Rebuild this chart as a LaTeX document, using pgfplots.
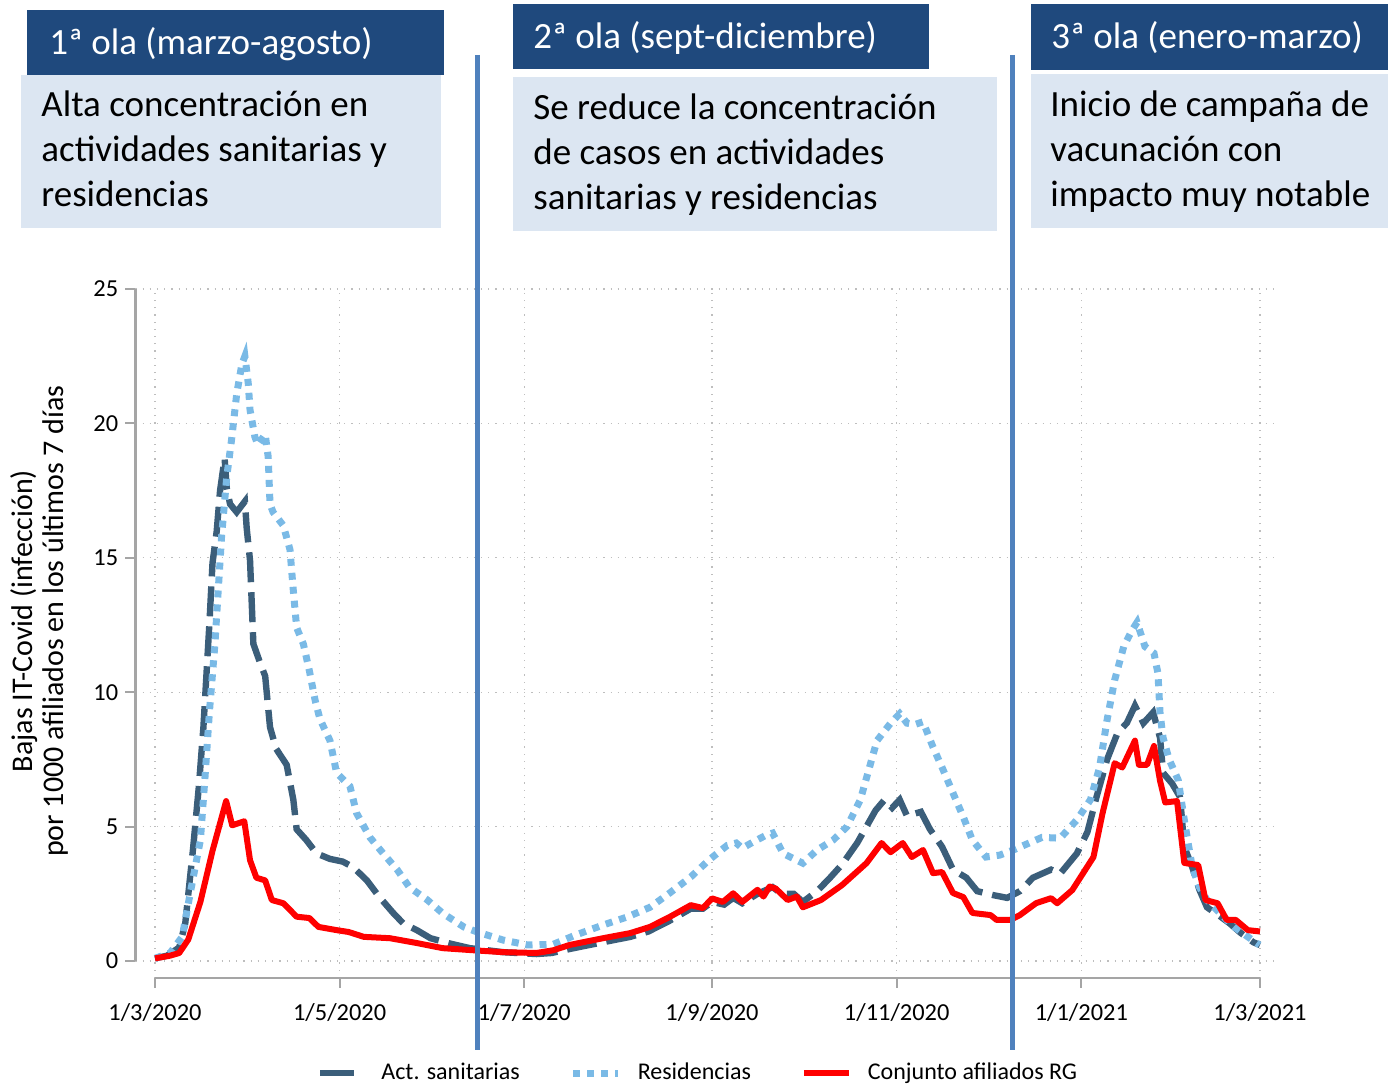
\documentclass[border=0pt]{standalone}
\usepackage{pgfplots}
\pgfplotsset{compat=1.18}
\usepackage{fontspec}
\setmainfont{Carlito}
\definecolor{actc}{RGB}{59,94,122}
\definecolor{resc}{RGB}{122,186,230}
\definecolor{hdr}{RGB}{31,73,125}
\definecolor{bodyc}{RGB}{220,230,242}
\definecolor{vline}{RGB}{79,129,189}
\definecolor{gridc}{RGB}{190,190,190}
\definecolor{axc}{RGB}{165,165,165}
\pgfplotstableread{
d v
0 0.1
4 0.2
8 0.5
10 1.4
12.6 4.2
14.5 6.5
16 8.7
18 12.6
19 14.8
20.4 16.0
21.5 17.5
23 18.7
23.7 17.6
24.8 17.0
27 16.7
29.7 17.1
30.3 16.1
31.4 14.9
32.5 11.8
34.7 11.1
36.4 10.6
38 8.7
40 7.9
43.5 7.3
45.7 6.0
46.8 4.9
50 4.5
53.4 4.0
57.8 3.8
62 3.7
65.4 3.5
70 3.0
74 2.4
78.6 1.8
82 1.4
86.5 1.15
91 0.85
97.5 0.65
104 0.48
115 0.33
126 0.26
131 0.3
137 0.45
148 0.7
157 0.9
163 1.1
170 1.5
177 1.95
181 1.95
184 2.2
188 2.1
191 2.35
194 2.15
199 2.5
204 2.75
207 2.5
211 2.5
214 2.2
218.7 2.6
223 3.1
227 3.6
232 4.4
235 5.0
238 5.6
241 6.0
243.5 5.7
246 6.0
248.4 5.4
253 5.55
256 4.9
260 4.25
263.6 3.4
268 3.1
271.6 2.6
277 2.45
281.5 2.35
285.7 2.6
290 3.1
296 3.4
299 3.25
304.5 4.0
308 4.8
311 6.1
314.5 7.5
318 8.5
321 8.85
323.7 9.5
326.5 8.85
329.7 9.25
332 8.3
333 7.0
336 6.6
338.6 6.1
340 4.25
342.6 3.5
345 2.65
347.5 2.0
352 1.65
355 1.4
358.6 1.05
362.8 0.7
365 0.6
}\acttab
\pgfplotstableread{
d v
0 0.1
5 0.3
9 0.9
11.6 2.5
15 4.5
16.5 6.8
18 9.3
19.8 11.8
20.9 13.8
22 15.8
23.7 18.0
25.3 19.4
27 21.1
28.7 22.2
29.7 22.5
30.8 21.5
31.4 20.5
33 19.5
34 19.2
36.4 19.6
37.4 18.75
38 17.0
39 16.7
42.4 16.2
44.6 15.3
45.6 13.9
46.8 12.4
49 11.8
51 10.8
52.9 9.7
54.5 9.0
57.8 8.2
60 7.0
64.4 6.5
66.6 5.5
71 4.6
75.4 4.0
80 3.4
84 2.75
90 2.27
95 1.78
102 1.27
106 1.1
115 0.78
123 0.6
131.5 0.62
139 0.97
148 1.34
156 1.64
163.5 2.0
170 2.53
177 3.13
183 3.76
189 4.3
192 4.39
194 4.2
197.6 4.43
202 4.69
204 4.76
207.5 4.0
214 3.64
218.7 4.13
224 4.5
228.6 5.0
233 6.0
236 7.2
238.5 8.2
243 8.85
246 9.2
248.4 8.85
251 8.8
253.7 8.9
257 7.96
260 7.2
263.6 6.25
267 5.36
270 4.5
274.5 3.87
279 3.94
283.5 4.13
285.7 4.24
293 4.6
299 4.57
304.5 5.25
309 6.0
312 7.2
314.5 8.97
317 10.45
320 11.7
322.7 12.3
324.4 12.6
327 11.7
330 11.45
331.3 10.7
332 9.2
333 8.3
335 7.5
338 6.73
340 5.25
342.6 3.5
345 2.75
347.5 2.27
353 1.64
356.5 1.27
361 0.9
364.8 0.6
}\restab
\pgfplotstableread{
d v
0 0.1
5 0.2
8 0.3
11 0.8
15 2.2
19 4.1
23.5 5.95
25.5 5.05
29.5 5.2
31.4 3.75
33.5 3.1
36.4 3.0
38.6 2.27
42.4 2.15
46.8 1.65
51 1.6
54 1.27
60 1.15
64 1.08
69 0.9
77.6 0.85
86.5 0.67
95 0.48
104 0.41
115 0.33
126 0.3
131.5 0.4
137 0.6
148 0.85
157 1.04
163.5 1.27
170 1.64
177 2.08
181 1.97
184 2.33
187.6 2.2
191 2.52
194 2.2
199 2.65
201 2.4
203 2.77
205 2.7
209 2.27
212 2.4
214 2.0
220 2.27
227 2.83
235 3.64
240 4.39
243 4.05
247 4.39
250 3.87
253.7 4.13
257 3.27
260 3.31
263.6 2.53
267 2.38
270 1.79
276 1.71
278 1.53
282.5 1.53
285.7 1.71
291 2.15
296 2.34
298 2.15
303 2.64
310 3.87
313 5.5
317 7.36
319.5 7.2
323.7 8.2
325 7.3
327.7 7.3
330 8.0
332 6.7
333.7 5.9
337.6 5.95
340 3.65
344.6 3.57
347 2.27
351 2.15
354 1.53
357 1.53
361 1.15
365 1.1
}\redtab
\begin{document}
\begin{tikzpicture}
\path[use as bounding box] (0,0) rectangle (694pt,542.5pt);
\begin{axis}[
  at={(67.65pt,53.5pt)}, anchor=south west,
  scale only axis, width=569.9pt, height=344.5pt,
  xmin=-6.5, xmax=370, ymin=-0.63, ymax=25,
  clip=false,
  axis x line*=bottom, axis y line*=left,
  axis line style={draw=none},
  xtick={0,61,122,184,245,306,365},
  xticklabels={1/3/2020,1/5/2020,1/7/2020,1/9/2020,1/11/2020,1/1/2021,1/3/2021},
  ytick={0,5,10,15,20,25},
  grid=major,
  major grid style={gridc, line width=0.6pt, dash pattern=on 0.6pt off 3pt},
  tick style={axc, line width=1pt},
  major tick length=5pt, tick align=outside,
  ticklabel style={font=\fontsize{12.2}{14}\selectfont},
  xticklabel style={yshift=-4.5pt},
  /pgf/number format/assume math mode=true,
  ylabel={Bajas IT-Covid (infección)\\por 1000 afiliados en los últimos 7 días},
  ylabel style={at={(axis description cs:-0.0845,0.518)}, anchor=center, align=center, font=\fontsize{15}{15.5}\selectfont},
  legend style={at={(0.493,-0.138)}, anchor=center, draw=none, fill=none,
    font=\fontsize{12}{14}\selectfont, legend columns=3,
    nodes={inner sep=0pt},
    /tikz/every odd column/.append style={column sep=8pt},
    /tikz/every even column/.append style={column sep=25pt}},
  legend cell align=left,
  after end axis/.code={
    \draw[axc, line width=1.2pt] (axis cs:-6.5,0) -- (axis cs:-6.5,25);
    \draw[axc, line width=1.2pt] (axis cs:0,-0.63) -- (axis cs:365,-0.63);
  },
]
\addplot[actc, line width=3.2pt, dash pattern=on 15pt off 5pt,
  legend image code/.code={\path[draw=none] (0pt,0pt) -- (22.5pt,0pt); \draw[actc, solid, line width=3.2pt] (0pt,0pt) -- (17pt,0pt);}]
  table[x=d,y=v] {\acttab};
\addlegendentry{Act. sanitarias}
\addplot[resc, line width=3.5pt, dash pattern=on 3.5pt off 3.5pt,
  legend image code/.code={\draw[resc, line width=3.5pt, dash pattern=on 3.5pt off 3.5pt] (0pt,0pt) -- (22.5pt,0pt);}]
  table[x=d,y=v] {\restab};
\addlegendentry{Residencias}
\addplot[red, line width=3pt, line join=round,
  legend image code/.code={\draw[red, solid, line width=3pt] (0pt,0pt) -- (22.5pt,0pt);}]
  table[x=d,y=v] {\redtab};
\addlegendentry{Conjunto afiliados RG}
\end{axis}
\begin{scope}[shift={(0,542.5pt)}, x=0.5pt, y=-0.5pt]
  \draw[vline, line width=2.5pt] (477,55) -- (477,1050);
  \draw[vline, line width=2.5pt] (1012,55) -- (1012,1050);
  % box 1
  \fill[bodyc] (21,75) rectangle (441,228);
  \fill[hdr] (27,10) rectangle (444,75);
  % box 2
  \fill[bodyc] (513,77) rectangle (997,231);
  \fill[hdr] (513,4) rectangle (929,69);
  % box 3
  \fill[bodyc] (1031,74) rectangle (1388,228);
  \fill[hdr] (1031,4) rectangle (1388,70);
  \begin{scope}[every node/.style={anchor=base west, inner sep=0pt, font=\fontsize{18.5}{22}\selectfont}]
    \node[white] at (49,55) {1ª ola (marzo-agosto)};
    \node at (41,117) {Alta concentración en};
    \node at (41,162) {actividades sanitarias y};
    \node at (41,207) {residencias};
    \node[white] at (533,49) {2ª ola (sept-diciembre)};
    \node at (533,120) {Se reduce la concentración};
    \node at (533,165) {de casos en actividades};
    \node at (533,210) {sanitarias y residencias};
    \node[white] at (1051,49) {3ª ola (enero-marzo)};
    \node at (1050,117) {Inicio de campaña de};
    \node at (1050,162) {vacunación con};
    \node at (1050,207) {impacto muy notable};
  \end{scope}
\end{scope}
\end{tikzpicture}
\end{document}
